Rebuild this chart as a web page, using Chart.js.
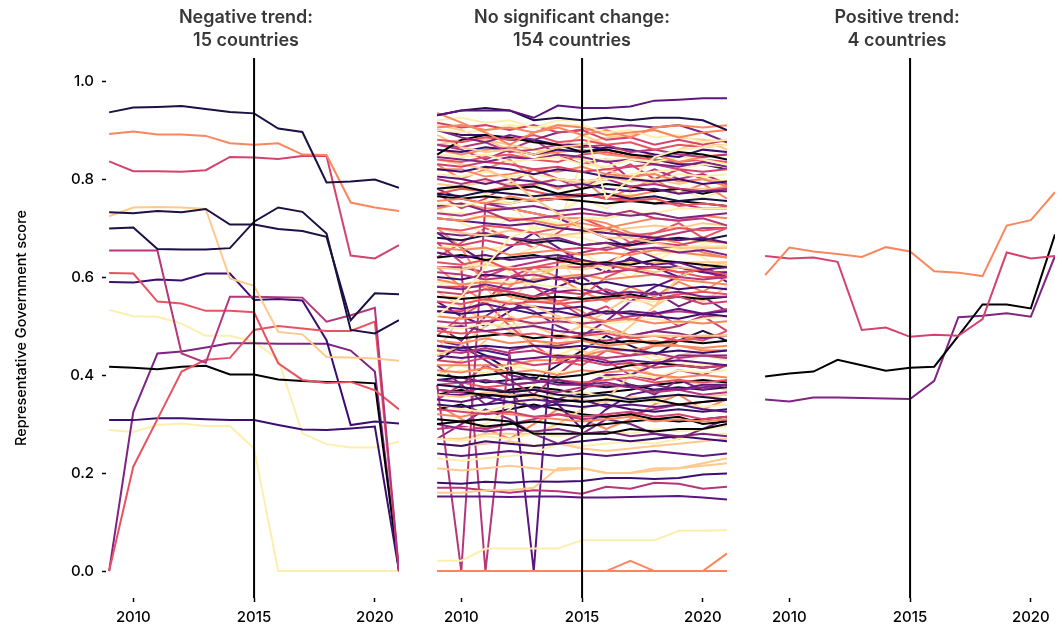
<!DOCTYPE html>
<html>
<head>
<meta charset="utf-8">
<script src="https://cdn.jsdelivr.net/npm/chart.js@4.4.1/dist/chart.umd.min.js"></script>
<style>
  body { margin: 0; background: #fff; font-family: Inter, "Noto Sans", sans-serif; }
  #wrap { position: relative; width: 1064px; height: 629px; overflow: hidden; }
  .panel { position: absolute; top: 0; }
  .ttl { position: absolute; top: 6px; width: 340px; text-align: center;
         font: 600 18px/22.5px Inter, sans-serif; color: #383838; }
</style>
</head>
<body>
<div id="wrap">
  <canvas id="negChart" class="panel" width="399" height="629" style="left:0px"></canvas>
  <canvas id="midChart" class="panel" width="293" height="629" style="left:434px"></canvas>
  <canvas id="posChart" class="panel" width="293" height="629" style="left:762px"></canvas>
  <div class="ttl" style="left:76px">Negative trend:<br>15 countries</div>
  <div class="ttl" style="left:402px">No significant change:<br>154 countries</div>
  <div class="ttl" style="left:727px">Positive trend:<br>4 countries</div>
</div>
<script>
// data
const years = [2009, 2010, 2011, 2012, 2013, 2014, 2015, 2016, 2017, 2018, 2019, 2020, 2021];
const xTicks = [2010, 2015, 2020];
const yTicks = [0, 0.2, 0.4, 0.6, 0.8, 1.0];
const refYear = 2015;

// magma-ish palette, dark -> light
const magma = ['#000004', '#1c1044', '#3b0f70', '#5c167f', '#7e2482', '#b5367a',
               '#d3436e', '#e85362', '#f8875f', '#fec98d', '#fcefae'];

// Negative trend: 15 countries
const negSeries = [
  [0.936, 0.946, 0.947, 0.949, 0.943, 0.937, 0.934, 0.903, 0.896, 0.793, 0.795, 0.799, 0.782],
  [0.892, 0.897, 0.891, 0.891, 0.888, 0.873, 0.870, 0.873, 0.850, 0.849, 0.752, 0.742, 0.735],
  [0.836, 0.816, 0.816, 0.815, 0.818, 0.845, 0.844, 0.841, 0.847, 0.847, 0.644, 0.638, 0.665],
  [0.732, 0.730, 0.735, 0.732, 0.739, 0.707, 0.707, 0.698, 0.694, 0.682, 0.512, 0.567, 0.565],
  [0.699, 0.701, 0.657, 0.656, 0.656, 0.659, 0.713, 0.742, 0.733, 0.689, 0.492, 0.485, 0.512],
  [0.724, 0.742, 0.743, 0.742, 0.739, 0.597, 0.582, 0.488, 0.483, 0.437, 0.436, 0.434, 0.429],
  [0.654, 0.654, 0.654, 0.444, 0.425, 0.560, 0.560, 0.559, 0.558, 0.509, 0.522, 0.537, 0],
  [0.608, 0.607, 0.550, 0.546, 0.531, 0.531, 0.528, 0.424, 0.390, 0.384, 0.386, 0.369, 0.330],
  [0, 0.213, 0.310, 0.407, 0.431, 0.435, 0.492, 0.500, 0.495, 0.490, 0.490, 0.509, 0],
  [0.590, 0.589, 0.595, 0.593, 0.607, 0.607, 0.553, 0.555, 0.552, 0.471, 0.298, 0.305, 0.301],
  [0.308, 0.308, 0.312, 0.312, 0.310, 0.308, 0.308, 0.298, 0.289, 0.288, 0.291, 0.295, 0],
  [0.417, 0.415, 0.412, 0.417, 0.419, 0.401, 0.401, 0.391, 0.388, 0.386, 0.386, 0.383, 0],
  [0, 0.325, 0.444, 0.448, 0.456, 0.465, 0.465, 0.464, 0.464, 0.464, 0.450, 0.407, 0],
  [0.533, 0.520, 0.519, 0.505, 0.480, 0.480, 0.468, 0.432, 0.281, 0.259, 0.252, 0.252, 0.264],
  [0.288, 0.284, 0.298, 0.301, 0.296, 0.296, 0.250, 0, 0, 0, 0, 0, 0]
];
const negColors = [1, 8, 6, 1, 1, 9, 5, 7, 7, 2, 2, 0, 4, 10, 10];

// No significant change: 154 countries (traced approximately)
const midSeries = [
  [0.93, 0.94, 0.94, 0.94, 0.925, 0.95, 0.945, 0.945, 0.948, 0.96, 0.962, 0.965, 0.965],
  [0.93, 0.94, 0.945, 0.94, 0.92, 0.925, 0.92, 0.925, 0.92, 0.925, 0.925, 0.92, 0.90],
  [0.935, 0.915, 0.895, 0.87, 0.895, 0.91, 0.905, 0.89, 0.895, 0.90, 0.885, 0.895, 0.90],
  [0.92, 0.925, 0.915, 0.92, 0.905, 0.91, 0.91, 0.895, 0.90, 0.885, 0.89, 0.875, 0.88],
  [0.905, 0.91, 0.90, 0.905, 0.895, 0.905, 0.89, 0.90, 0.885, 0.905, 0.91, 0.905, 0.91],
  [0.915, 0.905, 0.91, 0.90, 0.91, 0.895, 0.90, 0.88, 0.885, 0.87, 0.88, 0.87, 0.88],
  [0.90, 0.895, 0.90, 0.91, 0.905, 0.92, 0.92, 0.76, 0.80, 0.845, 0.86, 0.865, 0.87],
  [0.90, 0.885, 0.875, 0.89, 0.88, 0.895, 0.90, 0.905, 0.91, 0.905, 0.91, 0.895, 0.875],
  [0.88, 0.875, 0.885, 0.88, 0.89, 0.875, 0.88, 0.87, 0.875, 0.86, 0.87, 0.865, 0.87],
  [0.89, 0.865, 0.855, 0.86, 0.85, 0.865, 0.87, 0.885, 0.89, 0.90, 0.885, 0.88, 0.875],
  [0.85, 0.88, 0.89, 0.885, 0.875, 0.87, 0.855, 0.86, 0.85, 0.845, 0.855, 0.85, 0.84],
  [0.87, 0.865, 0.875, 0.855, 0.86, 0.87, 0.865, 0.87, 0.855, 0.86, 0.85, 0.845, 0.85],
  [0.86, 0.855, 0.865, 0.86, 0.85, 0.86, 0.855, 0.865, 0.86, 0.85, 0.845, 0.86, 0.855],
  [0.86, 0.85, 0.86, 0.865, 0.85, 0.855, 0.86, 0.85, 0.845, 0.85, 0.835, 0.845, 0.85],
  [0.85, 0.845, 0.85, 0.835, 0.84, 0.845, 0.83, 0.825, 0.84, 0.835, 0.845, 0.84, 0.83],
  [0.845, 0.84, 0.835, 0.845, 0.84, 0.85, 0.845, 0.835, 0.84, 0.83, 0.825, 0.835, 0.825],
  [0.84, 0.835, 0.845, 0.85, 0.84, 0.835, 0.85, 0.855, 0.845, 0.84, 0.835, 0.84, 0.835],
  [0.83, 0.825, 0.835, 0.83, 0.82, 0.825, 0.815, 0.82, 0.825, 0.83, 0.82, 0.815, 0.82],
  [0.84, 0.83, 0.82, 0.80, 0.76, 0.73, 0.70, 0.68, 0.68, 0.67, 0.66, 0.66, 0.66],
  [0.82, 0.815, 0.825, 0.82, 0.81, 0.82, 0.815, 0.805, 0.80, 0.795, 0.80, 0.79, 0.795],
  [0.82, 0.82, 0.805, 0.81, 0.82, 0.815, 0.825, 0.81, 0.805, 0.81, 0.795, 0.80, 0.785],
  [0.81, 0.805, 0.815, 0.805, 0.81, 0.80, 0.795, 0.80, 0.805, 0.795, 0.81, 0.805, 0.81],
  [0.805, 0.80, 0.79, 0.80, 0.795, 0.785, 0.79, 0.78, 0.775, 0.78, 0.77, 0.775, 0.775],
  [0.80, 0.79, 0.80, 0.785, 0.79, 0.80, 0.795, 0.80, 0.785, 0.79, 0.78, 0.775, 0.78],
  [0.78, 0.785, 0.775, 0.78, 0.785, 0.77, 0.78, 0.79, 0.785, 0.775, 0.78, 0.77, 0.78],
  [0.79, 0.785, 0.795, 0.79, 0.785, 0.80, 0.79, 0.805, 0.795, 0.80, 0.79, 0.80, 0.795],
  [0.77, 0.765, 0.775, 0.77, 0.765, 0.77, 0.765, 0.77, 0.76, 0.765, 0.755, 0.76, 0.755],
  [0.77, 0.78, 0.775, 0.785, 0.775, 0.765, 0.77, 0.76, 0.755, 0.76, 0.745, 0.75, 0.745],
  [0.755, 0.76, 0.75, 0.765, 0.755, 0.76, 0.765, 0.77, 0.765, 0.775, 0.78, 0.775, 0.785],
  [0.75, 0.745, 0.755, 0.75, 0.76, 0.77, 0.78, 0.80, 0.81, 0.815, 0.82, 0.83, 0.825],
  [0.745, 0.75, 0.735, 0.74, 0.745, 0.735, 0.74, 0.73, 0.725, 0.73, 0.72, 0.725, 0.73],
  [0.765, 0.76, 0.765, 0.76, 0.755, 0.76, 0.755, 0.75, 0.755, 0.75, 0.755, 0.75, 0.745],
  [0.73, 0.725, 0.735, 0.715, 0.72, 0.725, 0.73, 0.725, 0.735, 0.72, 0.715, 0.72, 0.705],
  [0.72, 0.715, 0.725, 0.72, 0.715, 0.705, 0.71, 0.70, 0.71, 0.72, 0.715, 0.725, 0.72],
  [0.72, 0.715, 0.71, 0.705, 0.71, 0.70, 0.695, 0.69, 0.685, 0.68, 0.675, 0.68, 0.67],
  [0.52, 0.56, 0.62, 0.68, 0.70, 0.70, 0.72, 0.72, 0.73, 0.73, 0.74, 0.74, 0.74],
  [0.70, 0.695, 0.705, 0.70, 0.69, 0.70, 0.695, 0.70, 0.685, 0.69, 0.70, 0.695, 0.70],
  [0.70, 0.69, 0.685, 0.695, 0.69, 0.685, 0.69, 0.695, 0.70, 0.705, 0.70, 0.71, 0.705],
  [0.69, 0.685, 0.69, 0.68, 0.675, 0.68, 0.665, 0.67, 0.655, 0.66, 0.65, 0.655, 0.645],
  [0.68, 0.675, 0.685, 0.68, 0.67, 0.675, 0.665, 0.67, 0.665, 0.675, 0.68, 0.675, 0.685],
  [0.67, 0.665, 0.675, 0.665, 0.67, 0.655, 0.66, 0.655, 0.665, 0.67, 0.665, 0.675, 0.67],
  [0.66, 0.655, 0.66, 0.645, 0.65, 0.655, 0.645, 0.65, 0.645, 0.655, 0.65, 0.645, 0.64],
  [0.66, 0.665, 0.655, 0.665, 0.67, 0.685, 0.68, 0.665, 0.66, 0.645, 0.655, 0.66, 0.665],
  [0.65, 0.64, 0.645, 0.635, 0.64, 0.645, 0.635, 0.625, 0.635, 0.625, 0.63, 0.615, 0.62],
  [0.64, 0.645, 0.635, 0.64, 0.645, 0.635, 0.625, 0.63, 0.625, 0.635, 0.63, 0.625, 0.62],
  [0.63, 0.625, 0.635, 0.615, 0.62, 0.63, 0.635, 0.625, 0.615, 0.62, 0.61, 0.615, 0.605],
  [0.62, 0.615, 0.625, 0.62, 0.61, 0.62, 0.615, 0.625, 0.62, 0.61, 0.62, 0.615, 0.625],
  [0.61, 0.605, 0.595, 0.60, 0.605, 0.595, 0.60, 0.61, 0.615, 0.605, 0.60, 0.595, 0.60],
  [0.60, 0.595, 0.605, 0.60, 0.59, 0.60, 0.585, 0.59, 0.58, 0.585, 0.575, 0.58, 0.575],
  [0.595, 0.585, 0.59, 0.585, 0.595, 0.60, 0.605, 0.595, 0.60, 0.605, 0.595, 0.59, 0.585],
  [0.59, 0.585, 0.595, 0.59, 0.585, 0.58, 0.575, 0.62, 0.66, 0.655, 0.66, 0.665, 0.66],
  [0.58, 0.575, 0.585, 0.575, 0.58, 0.57, 0.575, 0.565, 0.57, 0.565, 0.57, 0.56, 0.56],
  [0.57, 0.565, 0.575, 0.57, 0.56, 0.57, 0.565, 0.575, 0.56, 0.555, 0.56, 0.545, 0.55],
  [0.56, 0.555, 0.56, 0.565, 0.555, 0.56, 0.555, 0.56, 0.565, 0.555, 0.56, 0.555, 0.56],
  [0.55, 0.545, 0.555, 0.545, 0.55, 0.545, 0.55, 0.555, 0.56, 0.555, 0.565, 0.57, 0.565],
  [0.56, 0.56, 0.55, 0.55, 0.54, 0.52, 0.50, 0.49, 0.48, 0.48, 0.48, 0.48, 0.48],
  [0.54, 0.535, 0.545, 0.535, 0.54, 0.535, 0.54, 0.525, 0.53, 0.525, 0.535, 0.525, 0.53],
  [0.53, 0.525, 0.53, 0.535, 0.525, 0.53, 0.52, 0.53, 0.525, 0.52, 0.515, 0.525, 0.52],
  [0.52, 0.515, 0.52, 0.51, 0.52, 0.515, 0.52, 0.51, 0.515, 0.505, 0.51, 0.505, 0.51],
  [0.51, 0.505, 0.51, 0.515, 0.505, 0.51, 0.505, 0.51, 0.52, 0.525, 0.53, 0.525, 0.535],
  [0.50, 0.495, 0.505, 0.50, 0.51, 0.505, 0.51, 0.505, 0.51, 0.515, 0.505, 0.515, 0.52],
  [0.495, 0.50, 0.49, 0.495, 0.50, 0.49, 0.485, 0.49, 0.48, 0.49, 0.485, 0.475, 0.48],
  [0.49, 0.485, 0.49, 0.48, 0.485, 0.475, 0.48, 0.485, 0.475, 0.48, 0.47, 0.475, 0.48],
  [0.48, 0.475, 0.48, 0.485, 0.475, 0.48, 0.475, 0.465, 0.47, 0.465, 0.47, 0.465, 0.47],
  [0.47, 0.465, 0.475, 0.465, 0.47, 0.465, 0.47, 0.46, 0.465, 0.47, 0.46, 0.455, 0.46],
  [0.46, 0.455, 0.46, 0.455, 0.46, 0.455, 0.46, 0.455, 0.45, 0.445, 0.45, 0.445, 0.45],
  [0.44, 0.46, 0.50, 0.55, 0.60, 0.62, 0.63, 0.63, 0.63, 0.63, 0.63, 0.63, 0.63],
  [0.45, 0.445, 0.455, 0.445, 0.45, 0.435, 0.44, 0.435, 0.44, 0.445, 0.435, 0.44, 0.435],
  [0.44, 0.435, 0.44, 0.43, 0.435, 0.44, 0.435, 0.425, 0.43, 0.425, 0.43, 0.425, 0.42],
  [0.43, 0.425, 0.435, 0.43, 0.42, 0.425, 0.43, 0.42, 0.425, 0.415, 0.42, 0.415, 0.42],
  [0.40, 0.395, 0.40, 0.405, 0.40, 0.395, 0.40, 0.41, 0.42, 0.425, 0.42, 0.415, 0.42],
  [0.41, 0.405, 0.415, 0.405, 0.41, 0.40, 0.41, 0.405, 0.41, 0.40, 0.395, 0.40, 0.395],
  [0.40, 0.41, 0.405, 0.42, 0.41, 0.405, 0.41, 0.395, 0.40, 0.395, 0.41, 0.405, 0.41],
  [0.39, 0.385, 0.39, 0.38, 0.385, 0.39, 0.38, 0.385, 0.375, 0.38, 0.37, 0.375, 0.38],
  [0.38, 0.375, 0.37, 0.365, 0.37, 0.36, 0.355, 0.36, 0.35, 0.355, 0.36, 0.355, 0.35],
  [0.38, 0.385, 0.375, 0.38, 0.385, 0.39, 0.385, 0.39, 0.395, 0.385, 0.39, 0.385, 0.39],
  [0.37, 0.365, 0.375, 0.365, 0.37, 0.365, 0.375, 0.38, 0.375, 0.365, 0.37, 0.36, 0.365],
  [0.37, 0.365, 0.36, 0.355, 0.36, 0.35, 0.345, 0.35, 0.345, 0.35, 0.34, 0.345, 0.35],
  [0.36, 0.355, 0.365, 0.36, 0.355, 0.36, 0.35, 0.345, 0.355, 0.35, 0.36, 0.355, 0.36],
  [0.35, 0.345, 0.355, 0.345, 0.35, 0.345, 0.35, 0.335, 0.34, 0.335, 0.34, 0.33, 0.325],
  [0.34, 0.335, 0.34, 0.345, 0.335, 0.34, 0.335, 0.34, 0.33, 0.325, 0.33, 0.325, 0.33],
  [0.34, 0.33, 0.325, 0.34, 0.35, 0.36, 0.365, 0.355, 0.35, 0.345, 0.34, 0.335, 0.34],
  [0.31, 0.305, 0.31, 0.305, 0.28, 0.28, 0.28, 0.28, 0.29, 0.285, 0.29, 0.29, 0.30],
  [0.33, 0.325, 0.32, 0.325, 0.315, 0.32, 0.315, 0.32, 0.325, 0.315, 0.32, 0.31, 0.315],
  [0.32, 0.315, 0.325, 0.32, 0.315, 0.31, 0.305, 0.31, 0.315, 0.305, 0.31, 0.305, 0.31],
  [0.30, 0.305, 0.295, 0.30, 0.305, 0.30, 0.295, 0.30, 0.305, 0.31, 0.305, 0.31, 0.315],
  [0.30, 0.29, 0.285, 0.29, 0.285, 0.29, 0.28, 0.285, 0.275, 0.28, 0.275, 0.28, 0.275],
  [0.27, 0.265, 0.275, 0.27, 0.28, 0.275, 0.28, 0.285, 0.28, 0.29, 0.285, 0.29, 0.295],
  [0.26, 0.255, 0.265, 0.26, 0.255, 0.26, 0.265, 0.27, 0.265, 0.27, 0.275, 0.27, 0.265],
  [0.26, 0.255, 0.26, 0.265, 0.255, 0.26, 0.25, 0.245, 0.25, 0.255, 0.26, 0.265, 0.27],
  [0.24, 0.235, 0.24, 0.245, 0.24, 0.235, 0.24, 0.235, 0.24, 0.245, 0.24, 0.235, 0.24],
  [0.21, 0.205, 0.21, 0.215, 0.21, 0.205, 0.21, 0.20, 0.20, 0.205, 0.21, 0.215, 0.22],
  [0.23, 0.225, 0.23, 0.235, 0.24, 0.26, 0.255, 0.26, 0.265, 0.26, 0.27, 0.28, 0.28],
  [0.18, 0.178, 0.182, 0.18, 0.183, 0.182, 0.184, 0.19, 0.19, 0.188, 0.19, 0.197, 0.199],
  [0.16, 0.16, 0.165, 0.165, 0.17, 0.21, 0.21, 0.20, 0.20, 0.21, 0.21, 0.22, 0.23],
  [0.17, 0.17, 0.165, 0.16, 0.165, 0.163, 0.158, 0.172, 0.168, 0.18, 0.178, 0.168, 0.172],
  [0.152, 0.152, 0.152, 0.151, 0.152, 0.152, 0.15, 0.15, 0.151, 0.152, 0.153, 0.15, 0.146],
  [0.021, 0.021, 0.046, 0.046, 0.046, 0.046, 0.063, 0.063, 0.063, 0.063, 0.082, 0.082, 0.084],
  [0, 0, 0, 0, 0, 0, 0, 0, 0, 0, 0, 0, 0],
  [0, 0, 0, 0, 0, 0, 0, 0, 0.021, 0, 0, 0, 0.036],
  [0.38, 0, 0.75, 0.75, 0.76, 0.76, 0.77, 0.76, 0.76, 0.75, 0.75, 0.74, 0.74],
  [0.62, 0.62, 0, 0.45, 0.46, 0.46, 0.47, 0.47, 0.48, 0.49, 0.50, 0.52, 0.52],
  [0.46, 0.45, 0.45, 0.44, 0, 0.64, 0.63, 0.63, 0.62, 0.62, 0.62, 0.61, 0.61],
  [0.62, 0.62, 0.63, 0.64, 0.66, 0.70, 0.84, 0.84, 0.84, 0.85, 0.85, 0.85, 0.85],
  [0.45, 0.52, 0.58, 0.52, 0.45, 0.44, 0.44, 0.46, 0.50, 0.54, 0.60, 0.62, 0.63],
  [0.70, 0.66, 0.58, 0.56, 0.55, 0.55, 0.53, 0.50, 0.48, 0.46, 0.46, 0.45, 0.45],
  [0.78, 0.78, 0.77, 0.75, 0.70, 0.64, 0.58, 0.56, 0.55, 0.55, 0.56, 0.56, 0.56],
  [0.53, 0.53, 0.55, 0.60, 0.62, 0.62, 0.62, 0.63, 0.65, 0.66, 0.66, 0.66, 0.66],
  [0.47, 0.46, 0.43, 0.40, 0.39, 0.38, 0.38, 0.40, 0.40, 0.42, 0.44, 0.44, 0.44],
  [0.36, 0.36, 0.36, 0.36, 0.36, 0.34, 0.29, 0.33, 0.36, 0.37, 0.37, 0.38, 0.38],
  [0.30, 0.29, 0.30, 0.33, 0.38, 0.44, 0.46, 0.46, 0.45, 0.44, 0.42, 0.42, 0.42],
  [0.27, 0.27, 0.28, 0.28, 0.28, 0.30, 0.33, 0.35, 0.40, 0.43, 0.44, 0.45, 0.45],
  [0.58, 0.58, 0.58, 0.57, 0.56, 0.55, 0.56, 0.60, 0.62, 0.62, 0.61, 0.60, 0.60],
  [0.90, 0.89, 0.89, 0.88, 0.88, 0.87, 0.87, 0.86, 0.85, 0.84, 0.83, 0.83, 0.82],
  [0.74, 0.75, 0.74, 0.74, 0.73, 0.72, 0.72, 0.71, 0.69, 0.68, 0.67, 0.65, 0.64],
  [0.62, 0.62, 0.61, 0.62, 0.63, 0.64, 0.65, 0.66, 0.67, 0.68, 0.69, 0.70, 0.70],
  [0.87, 0.88, 0.88, 0.87, 0.86, 0.85, 0.84, 0.82, 0.80, 0.79, 0.78, 0.78, 0.78],
  [0.73, 0.73, 0.72, 0.72, 0.72, 0.71, 0.70, 0.69, 0.69, 0.68, 0.68, 0.67, 0.67],
  [0.78, 0.76, 0.75, 0.74, 0.73, 0.72, 0.70, 0.68, 0.66, 0.64, 0.62, 0.61, 0.60],
  [0.42, 0.42, 0.42, 0.42, 0.43, 0.43, 0.44, 0.45, 0.45, 0.46, 0.47, 0.48, 0.48],
  [0.48, 0.52, 0.55, 0.50, 0.46, 0.43, 0.42, 0.45, 0.44, 0.46, 0.48, 0.47, 0.49],
  [0.35, 0.38, 0.42, 0.39, 0.36, 0.40, 0.44, 0.43, 0.40, 0.39, 0.41, 0.40, 0.42],
  [0.42, 0.38, 0.34, 0.36, 0.33, 0.35, 0.37, 0.40, 0.38, 0.36, 0.39, 0.37, 0.38],
  [0.62, 0.58, 0.55, 0.58, 0.62, 0.60, 0.57, 0.55, 0.58, 0.56, 0.59, 0.57, 0.60],
  [0.40, 0.43, 0.47, 0.52, 0.50, 0.48, 0.50, 0.53, 0.56, 0.54, 0.57, 0.55, 0.58],
  [0.67, 0.63, 0.60, 0.62, 0.58, 0.55, 0.52, 0.54, 0.51, 0.53, 0.50, 0.52, 0.49],
  [0.55, 0.52, 0.50, 0.53, 0.56, 0.58, 0.60, 0.57, 0.55, 0.58, 0.60, 0.62, 0.60],
  [0.83, 0.80, 0.82, 0.84, 0.80, 0.78, 0.80, 0.76, 0.78, 0.80, 0.77, 0.79, 0.76],
  [0.87, 0.86, 0.84, 0.86, 0.88, 0.85, 0.83, 0.84, 0.80, 0.82, 0.80, 0.81, 0.79],
  [0.74, 0.71, 0.69, 0.72, 0.70, 0.73, 0.76, 0.74, 0.77, 0.75, 0.78, 0.76, 0.78],
  [0.36, 0.37, 0.355, 0.37, 0.375, 0.37, 0.36, 0.365, 0.37, 0.38, 0.385, 0.39, 0.385],
  [0.39, 0.395, 0.385, 0.39, 0.395, 0.385, 0.38, 0.375, 0.38, 0.37, 0.375, 0.37, 0.375],
  [0.33, 0.34, 0.32, 0.33, 0.34, 0.33, 0.32, 0.315, 0.32, 0.31, 0.315, 0.30, 0.305],
  [0.29, 0.295, 0.29, 0.30, 0.31, 0.32, 0.31, 0.315, 0.32, 0.33, 0.34, 0.345, 0.35],
  [0.45, 0.42, 0.40, 0.41, 0.43, 0.46, 0.49, 0.47, 0.45, 0.43, 0.42, 0.44, 0.43],
  [0.57, 0.54, 0.51, 0.49, 0.47, 0.46, 0.45, 0.43, 0.42, 0.40, 0.39, 0.38, 0.37],
  [0.50, 0.47, 0.52, 0.55, 0.53, 0.50, 0.48, 0.51, 0.55, 0.57, 0.54, 0.56, 0.53],
  [0.64, 0.67, 0.70, 0.68, 0.66, 0.69, 0.72, 0.70, 0.67, 0.69, 0.71, 0.68, 0.70],
  [0.77, 0.74, 0.76, 0.79, 0.82, 0.80, 0.78, 0.81, 0.83, 0.80, 0.82, 0.80, 0.79],
  [0.91, 0.90, 0.88, 0.86, 0.84, 0.86, 0.89, 0.87, 0.85, 0.83, 0.86, 0.88, 0.86],
  [0.34, 0.31, 0.29, 0.27, 0.30, 0.33, 0.31, 0.29, 0.31, 0.34, 0.36, 0.33, 0.35],
  [0.27, 0.30, 0.33, 0.31, 0.28, 0.26, 0.28, 0.31, 0.30, 0.28, 0.27, 0.29, 0.31],
  [0.43, 0.46, 0.44, 0.41, 0.39, 0.42, 0.45, 0.48, 0.46, 0.44, 0.47, 0.49, 0.47],
  [0.58, 0.61, 0.64, 0.61, 0.59, 0.62, 0.65, 0.62, 0.60, 0.63, 0.66, 0.64, 0.61],
  [0.69, 0.66, 0.63, 0.66, 0.69, 0.66, 0.63, 0.61, 0.64, 0.62, 0.60, 0.62, 0.59]
];
const midColors = [3, 1, 8, 10, 8, 6, 10, 4, 7, 9, 0, 5, 2, 8, 10, 4, 7, 6, 9, 2,
                   8, 10, 3, 5, 0, 9, 1, 7, 8, 10, 4, 0, 5, 8, 3, 10, 7, 9, 4, 1,
                   6, 8, 10, 3, 0, 7, 9, 5, 2, 8, 10, 4, 6, 0, 7, 9, 3, 2, 8, 5,
                   10, 4, 7, 0, 8, 2, 9, 5, 3, 6, 0, 8, 10, 4, 1, 7, 5, 0, 9, 3,
                   2, 10, 0, 6, 8, 0, 4, 10, 2, 9, 3, 9, 10, 2, 9, 5, 3, 10, 8, 8,
                   5, 5, 3, 10, 9, 8, 10, 6, 4, 3, 10, 9, 7, 2, 8, 5, 9, 10, 4, 8,
                   7, 5, 4, 8, 9, 6, 3, 8, 5, 10, 0, 1, 0, 5, 10, 9, 4, 7, 6, 9,
                   8, 4, 1, 10, 3];

// Positive trend: 4 countries
const posSeries = [
  [0.604, 0.660, 0.652, 0.647, 0.641, 0.661, 0.652, 0.612, 0.609, 0.602, 0.705, 0.716, 0.773],
  [0.643, 0.638, 0.640, 0.631, 0.492, 0.497, 0.478, 0.482, 0.480, 0.514, 0.650, 0.638, 0.643],
  [0.397, 0.403, 0.407, 0.431, 0.420, 0.409, 0.415, 0.417, 0.480, 0.544, 0.544, 0.536, 0.687],
  [0.350, 0.346, 0.354, 0.354, 0.353, 0.352, 0.351, 0.388, 0.518, 0.521, 0.526, 0.519, 0.643]
];
const posColors = [8, 6, 0, 4];

const yMin = -0.055, yMax = 1.047;
const xMin = 2008.87, xMax = 2021;
const tickFont = { family: 'Inter', size: 15, weight: '500' };

function makePanel(id, series, colors, withY) {
  const datasets = [{
    data: [{ x: refYear, y: yMin }, { x: refYear, y: yMax }],
    borderColor: '#000', borderWidth: 2, pointRadius: 0
  }];
  series.forEach((vals, i) => {
    datasets.push({
      data: years.map((yr, j) => ({ x: yr, y: vals[j] })),
      borderColor: magma[colors[i]],
      borderWidth: 2,
      pointRadius: 0,
      tension: 0
    });
  });

  new Chart(document.getElementById(id), {
    type: 'line',
    data: { datasets },
    options: {
      responsive: false,
      animation: false,
      devicePixelRatio: 1,
      layout: { padding: { top: 58, left: 0, right: 0, bottom: 0 } },
      plugins: { legend: { display: false }, tooltip: { enabled: false } },
      scales: {
        x: {
          type: 'linear', min: xMin, max: xMax,
          afterBuildTicks: s => { s.ticks = xTicks.map(v => ({ value: v })); },
          afterFit: s => { s.height = 31; s.paddingLeft = 0; s.paddingRight = 0; },
          border: { display: false },
          grid: { drawOnChartArea: false, drawTicks: true, tickLength: 4, tickWidth: 1.5, tickColor: '#000' },
          ticks: { color: '#000', font: tickFont, padding: 6, maxRotation: 0, callback: v => String(v) }
        },
        y: {
          display: withY,
          min: yMin, max: yMax,
          afterBuildTicks: s => { s.ticks = yTicks.map(v => ({ value: v })); },
          afterFit: s => { s.width = withY ? 106 : 0; },
          border: { display: false },
          grid: { drawOnChartArea: false, drawTicks: true, tickLength: 4, tickWidth: 1.5, tickColor: '#000' },
          ticks: { color: '#000', font: tickFont, padding: 8, callback: v => v.toFixed(1) },
          title: {
            display: true, text: 'Representative Government score', color: '#000',
            font: { family: 'Inter', size: 14.5, weight: '500' }, padding: { top: 13, bottom: 0 }
          }
        }
      }
    }
  });
}

makePanel('negChart', negSeries, negColors, true);
makePanel('midChart', midSeries, midColors, false);
makePanel('posChart', posSeries, posColors, false);
</script>
</body>
</html>
